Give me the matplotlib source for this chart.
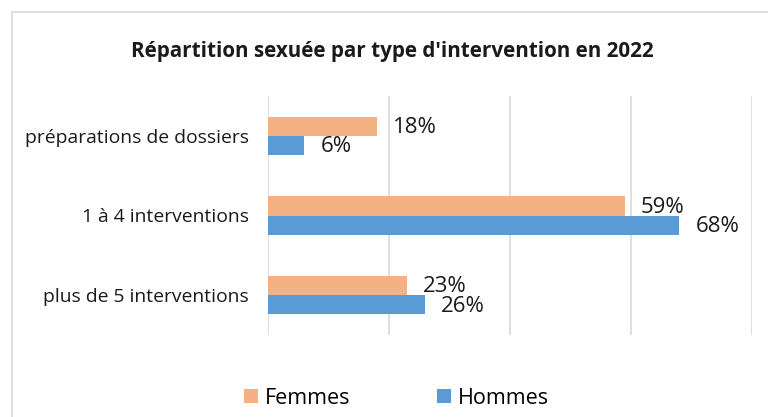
import numpy as np
import matplotlib.pyplot as plt
from matplotlib.patches import Rectangle

categories = ["préparations de dossiers", "1 à 4 interventions", "plus de 5 interventions"]
femmes = [18, 59, 23]
hommes = [6, 68, 26]
series_names = ["Femmes", "Hommes"]
title = "Répartition sexuée par type d'intervention en 2022"

ORANGE = "#F4B183"
BLUE = "#5B9BD5"
GRID = "#D9D9D9"

plt.rcParams["font.family"] = ["Open Sans", "DejaVu Sans"]

fig = plt.figure(figsize=(7.68, 4.17), dpi=100)

# outer chart border
fig.patches.append(Rectangle((12 / 768, -0.01), 1.0, 1 - 12 / 417 + 0.01,
                             transform=fig.transFigure, fill=False,
                             edgecolor=GRID, linewidth=1.2))

ax = fig.add_axes([268 / 768, 82 / 417, 484 / 768, 239 / 417])

y = np.arange(len(categories))[::-1]
h = 0.24
bf = ax.barh(y + h / 2, femmes, height=h, color=ORANGE, label=series_names[0], zorder=3)
bh = ax.barh(y - h / 2, hommes, height=h, color=BLUE, label=series_names[1], zorder=3)

for bars, vals in [(bf, femmes), (bh, hommes)]:
    for b, v in zip(bars, vals):
        ax.annotate(f"{v}%", (b.get_width(), b.get_y() + b.get_height() / 2),
                    xytext=(11.5, -1), textcoords="offset points",
                    va="center", ha="left", fontsize=16, color="#1a1a1a")

ax.set_xlim(0, 80)
ax.set_ylim(-0.5, 2.5)
ax.set_xticks([0, 20, 40, 60, 80])
ax.set_xticklabels([])
ax.set_yticks(y)
ax.set_yticklabels(categories, fontsize=13.9, color="#1a1a1a")
ax.tick_params(length=0, pad=14)
ax.grid(axis="x", color=GRID, linewidth=1.2, zorder=0)
for s in ax.spines.values():
    s.set_visible(False)

fig.text(0.511, 1 - 51 / 417, title, ha="center", va="center",
         fontsize=14.9, fontweight="bold", color="#1a1a1a")

fig.legend(handles=[bf, bh], labels=series_names, loc="center",
           bbox_to_anchor=(0.516, 1 - 398 / 417), ncol=2, frameon=False,
           fontsize=15.5, handlelength=0.65, handleheight=0.65,
           columnspacing=4.0, handletextpad=0.33)

fig.savefig("out.png", dpi=100)
